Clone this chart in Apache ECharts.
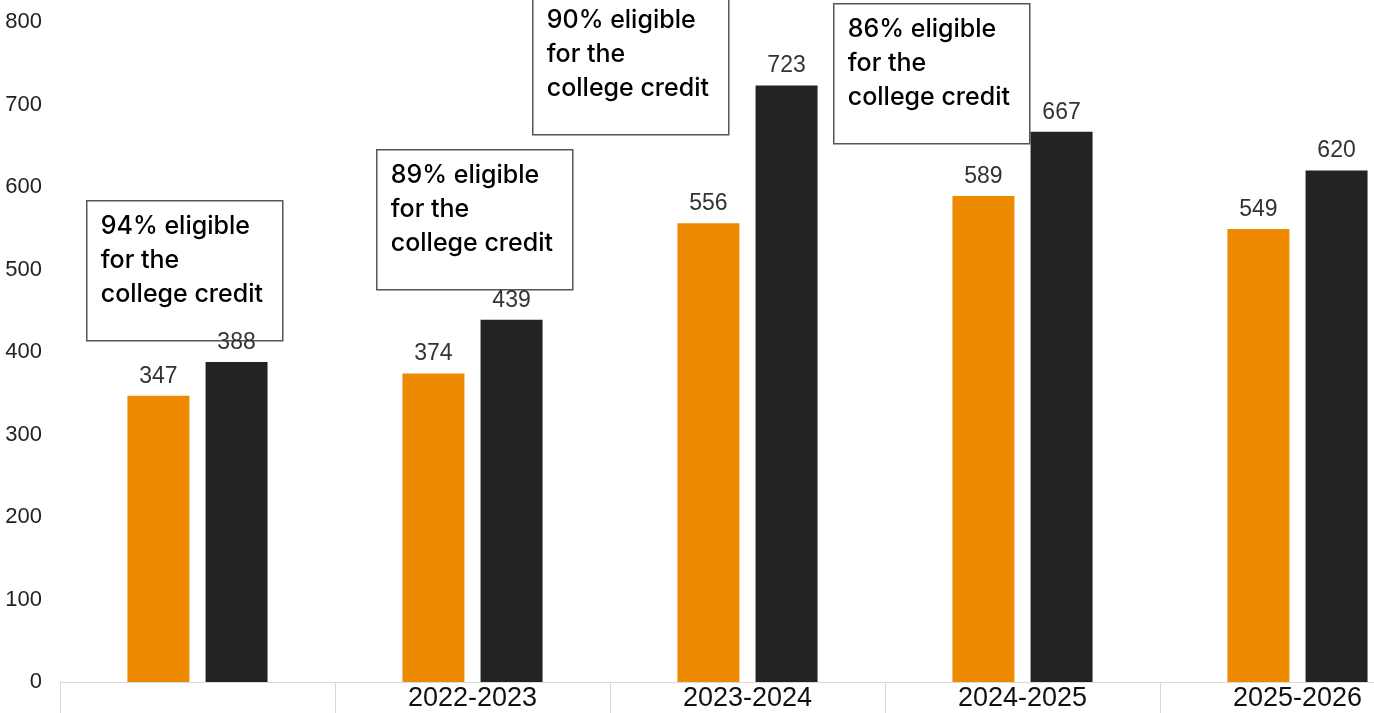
<!DOCTYPE html>
<html>
<head>
<meta charset="utf-8">
<title>Students by school year</title>
<script src="https://cdn.jsdelivr.net/npm/echarts@6/dist/echarts.min.js"></script>
<style>
  html, body { margin: 0; padding: 0; background: #fff; overflow: hidden; }
  #chart { width: 1450px; height: 713px; }
</style>
</head>
<body>
<div id="chart"></div>
<script>
// School years along the x axis (first year left unlabelled)
const years = ['', '2022-2023', '2023-2024', '2024-2025', '2025-2026'];
// Two series per year
const orangeValues = [347, 374, 556, 589, 549];
const blackValues = [388, 439, 723, 667, 620];
// Value axis ticks
const yMin = 0;
const yMax = 800;
const yStep = 100;
// Call-out notes
const notes = [
  '94% eligible\nfor the\ncollege credit',
  '89% eligible\nfor the\ncollege credit',
  '90% eligible\nfor the\ncollege credit',
  '86% eligible\nfor the\ncollege credit'
];

// Where each call-out box sits on the page
const noteBoxes = [
  { x: 86, y: 200 },
  { x: 376, y: 149 },
  { x: 532, y: -6 },
  { x: 833, y: 3 }
];

const chart = echarts.init(document.getElementById('chart'), null, { renderer: 'canvas' });

const labelStyle = {
  show: true,
  position: 'top',
  distance: 8,
  fontFamily: 'Liberation Sans, Arial, sans-serif',
  fontSize: 23,
  color: '#333'
};

const graphics = notes.map((t, i) => ({
  type: 'group',
  left: noteBoxes[i].x,
  top: noteBoxes[i].y,
  z: 100,
  children: [
    {
      type: 'rect',
      shape: { x: 0, y: 0, width: 196, height: 140 },
      style: { fill: '#fff', stroke: '#555', lineWidth: 1.5 }
    },
    {
      type: 'text',
      x: 14,
      y: 9,
      style: {
        text: t,
        fontFamily: 'Inter, sans-serif',
        fontSize: 25,
        fontWeight: 500,
        lineHeight: 34,
        fill: '#000',
        textVerticalAlign: 'top'
      }
    }
  ]
}));

chart.setOption({
  animation: false,
  backgroundColor: '#fff',
  grid: { left: 60, top: 22, width: 1375, bottom: 31, containLabel: false },
  xAxis: {
    type: 'category',
    data: years,
    axisLine: { show: true, lineStyle: { color: '#d9d9d9', width: 1 } },
    axisTick: { show: true, length: 40, lineStyle: { color: '#d9d9d9', width: 1 } },
    axisLabel: {
      margin: 3,
      fontFamily: 'Liberation Sans, Arial, sans-serif',
      fontSize: 27,
      color: '#111'
    },
    splitLine: { show: false }
  },
  yAxis: {
    type: 'value',
    min: yMin,
    max: yMax,
    interval: yStep,
    axisLine: { show: false },
    axisTick: { show: false },
    splitLine: { show: false },
    axisLabel: {
      margin: 18,
      fontFamily: 'Liberation Sans, Arial, sans-serif',
      fontSize: 22,
      color: '#222'
    }
  },
  series: [
    {
      type: 'bar',
      data: orangeValues,
      barWidth: 62,
      barGap: '26%',
      itemStyle: { color: '#EE8A00' },
      label: labelStyle
    },
    {
      type: 'bar',
      data: blackValues,
      barWidth: 62,
      barGap: '26%',
      itemStyle: { color: '#232323' },
      label: labelStyle
    }
  ],
  graphic: graphics
});
</script>
</body>
</html>
